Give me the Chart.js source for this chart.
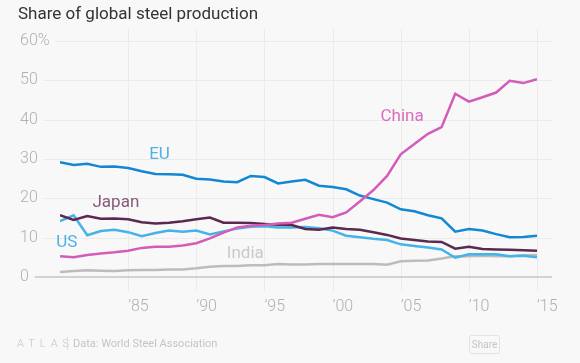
<!DOCTYPE html>
<html>
<head>
<meta charset="utf-8">
<script src="https://cdn.jsdelivr.net/npm/chart.js@4"></script>
<style>
  html, body { margin: 0; padding: 0; background: #f8f8f8; }
  #wrap { position: relative; width: 580px; height: 363px; font-family: Roboto, sans-serif; overflow: hidden; }
  #chart { position: absolute; left: 0; top: 0; }
  #title { position: absolute; left: 18px; top: 3px; font-size: 17px; color: #333; white-space: nowrap; }
  #logo { position: absolute; left: 17px; top: 337px; font-size: 11px; font-weight: 300; letter-spacing: 5px; color: #c4c4c4; }
  #sep { position: absolute; left: 67px; top: 337px; width: 1px; height: 13px; background: #dedede; }
  #source { position: absolute; left: 73px; top: 337px; font-size: 11px; color: #c4c4c4; }
  #share { position: absolute; left: 469px; top: 335px; width: 29px; height: 17px; border: 1px solid #e4e4e4; border-radius: 2px;
           font-size: 10px; line-height: 17px; text-align: center; color: #c4c4c4; }
</style>
</head>
<body>
<div id="wrap">
  <canvas id="chart" width="580" height="363"></canvas>
  <div id="title">Share of global steel production</div>
  <div id="logo">ATLAS</div>
  <div id="sep"></div>
  <div id="source">Data: World Steel Association</div>
  <div id="share">Share</div>
</div>
<script>
// Years on the x axis
const years = [1980, 1981, 1982, 1983, 1984, 1985, 1986, 1987, 1988, 1989,
               1990, 1991, 1992, 1993, 1994, 1995, 1996, 1997, 1998, 1999,
               2000, 2001, 2002, 2003, 2004, 2005, 2006, 2007, 2008, 2009,
               2010, 2011, 2012, 2013, 2014, 2015];

// Share of world crude steel output, %
const china = [5.3, 5.0, 5.6, 6.0, 6.3, 6.7, 7.4, 7.7, 7.7, 8.0,
               8.6, 9.8, 11.3, 12.6, 13.0, 13.2, 13.6, 13.8, 14.8, 15.8,
               15.2, 16.4, 19.2, 22.1, 25.7, 31.2, 33.8, 36.4, 38.1, 46.6,
               44.6, 45.7, 46.9, 49.9, 49.3, 50.3];
const eu = [29.2, 28.5, 28.8, 28.0, 28.1, 27.7, 26.9, 26.2, 26.1, 26.0,
            25.0, 24.8, 24.3, 24.1, 25.7, 25.4, 23.8, 24.3, 24.7, 23.2,
            22.9, 22.3, 20.7, 19.8, 18.9, 17.2, 16.7, 15.7, 14.9, 11.5,
            12.2, 11.8, 10.9, 10.1, 10.2, 10.5];
const japan = [15.7, 14.5, 15.5, 14.8, 14.9, 14.7, 13.9, 13.6, 13.8, 14.2,
               14.7, 15.1, 13.8, 13.8, 13.7, 13.5, 13.3, 13.2, 12.2, 12.0,
               12.6, 12.2, 12.0, 11.4, 10.7, 9.8, 9.4, 9.0, 8.9, 7.2,
               7.7, 7.1, 7.0, 6.9, 6.8, 6.7];
const us = [14.2, 15.7, 10.6, 11.7, 12.0, 11.4, 10.4, 11.2, 11.8, 11.5,
            11.8, 10.8, 11.6, 12.3, 12.8, 12.9, 12.6, 12.6, 12.7, 12.4,
            11.8, 10.5, 10.1, 9.7, 9.4, 8.3, 7.9, 7.5, 7.0, 4.9,
            5.8, 5.8, 5.8, 5.3, 5.4, 5.0];
const india = [1.3, 1.5, 1.7, 1.6, 1.5, 1.7, 1.8, 1.8, 1.9, 1.9,
               2.2, 2.6, 2.8, 2.8, 3.0, 3.0, 3.3, 3.2, 3.2, 3.3,
               3.3, 3.3, 3.3, 3.3, 3.1, 4.0, 4.1, 4.2, 4.7, 5.3,
               5.3, 5.4, 5.3, 5.3, 5.5, 5.6];

const yTicks = [0, 10, 20, 30, 40, 50, 60];

// Series labels placed in data space: [text, year, value at baseline, colour]
const seriesLabels = [
    ['China', 2005.1, 39.6, '#d86cbf'],
    ['EU', 1987.3, 30.1, '#4fb2e6'],
    ['Japan', 1984.1, 17.8, '#87597c'],
    ['US', 1980.5, 7.6, '#4fb2e6'],
    ['India', 1993.6, 4.9, '#cacaca']
];

const toPoints = (vals) => years.map((yr, i) => ({ x: yr, y: vals[i] }));

const tickFont = { family: 'Roboto', size: 16, weight: '300' };
const tickColor = '#b0b0b0';

// Grid drawn by hand so the horizontal lines start right after each label
const gridPlugin = {
    id: 'atlasGrid',
    beforeDatasetsDraw(chart) {
        const { ctx, chartArea, scales: { x, y } } = chart;
        const right = chartArea.right + 15;
        ctx.save();
        ctx.font = '300 16px Roboto';
        // vertical lines
        ctx.strokeStyle = '#ececec';
        ctx.lineWidth = 1;
        x.ticks.forEach(t => {
            if (t.value <= years[0]) return;
            const px = Math.round(x.getPixelForValue(t.value)) + 0.5;
            ctx.beginPath();
            ctx.moveTo(px, 28);
            ctx.lineTo(px, chartArea.bottom + 14);
            ctx.stroke();
        });
        // horizontal lines
        y.ticks.forEach((t) => {
            const py = Math.round(y.getPixelForValue(t.value));
            const w = ctx.measureText(t.label || '').width;
            const left = y.left + w + 6;
            ctx.beginPath();
            if (t.value === 0) {
                ctx.strokeStyle = '#d2d2d2';
                ctx.lineWidth = 2;
                ctx.moveTo(left, py);
                ctx.lineTo(right, py);
            } else {
                ctx.strokeStyle = '#ebebeb';
                ctx.lineWidth = 1;
                ctx.moveTo(left, py + 0.5);
                ctx.lineTo(right, py + 0.5);
            }
            ctx.stroke();
        });
        ctx.restore();
    },
    afterDatasetsDraw(chart) {
        const { ctx, scales: { x, y } } = chart;
        ctx.save();
        ctx.font = '17px Roboto';
        ctx.textAlign = 'center';
        ctx.textBaseline = 'alphabetic';
        seriesLabels.forEach(([text, yr, v, color]) => {
            ctx.fillStyle = color;
            ctx.fillText(text, x.getPixelForValue(yr), y.getPixelForValue(v));
        });
        ctx.restore();
    }
};

const lineSet = (label, vals, color) => ({
    label: label,
    data: toPoints(vals),
    borderColor: color,
    borderWidth: 2.5,
    pointRadius: 0,
    tension: 0,
    fill: false
});

new Chart(document.getElementById('chart'), {
    type: 'line',
    data: {
        datasets: [
            lineSet('China', china, '#d35cb9'),
            lineSet('EU', eu, '#1287d3'),
            lineSet('Japan', japan, '#5b2950'),
            lineSet('US', us, '#45b2e8'),
            lineSet('India', india, '#bcbcbc')
        ]
    },
    options: {
        responsive: false,
        animation: false,
        layout: { padding: { left: 20, right: 43, top: 41, bottom: 46 } },
        plugins: {
            legend: { display: false },
            tooltip: { enabled: false }
        },
        scales: {
            x: {
                type: 'linear',
                min: 1980,
                max: 2015,
                grid: { display: false, drawTicks: false },
                border: { display: false },
                afterFit: (scale) => { scale.height = 40; },
                ticks: {
                    stepSize: 5,
                    align: 'start',
                    maxRotation: 0,
                    autoSkip: false,
                    padding: 20,
                    font: tickFont,
                    color: tickColor,
                    callback: (v) => v === 1980 ? '' : '\u2019' + String(v).slice(2)
                }
            },
            y: {
                min: 0,
                max: 60,
                afterBuildTicks: (scale) => { scale.ticks = yTicks.map(v => ({ value: v })); },
                afterFit: (scale) => { scale.width = 40; },
                grid: { display: false, drawTicks: false },
                border: { display: false },
                ticks: {
                    crossAlign: 'far',
                    padding: 0,
                    font: tickFont,
                    color: tickColor,
                    callback: (v) => v === 60 ? v + '%' : String(v)
                }
            }
        }
    },
    plugins: [gridPlugin]
});
</script>
</body>
</html>
